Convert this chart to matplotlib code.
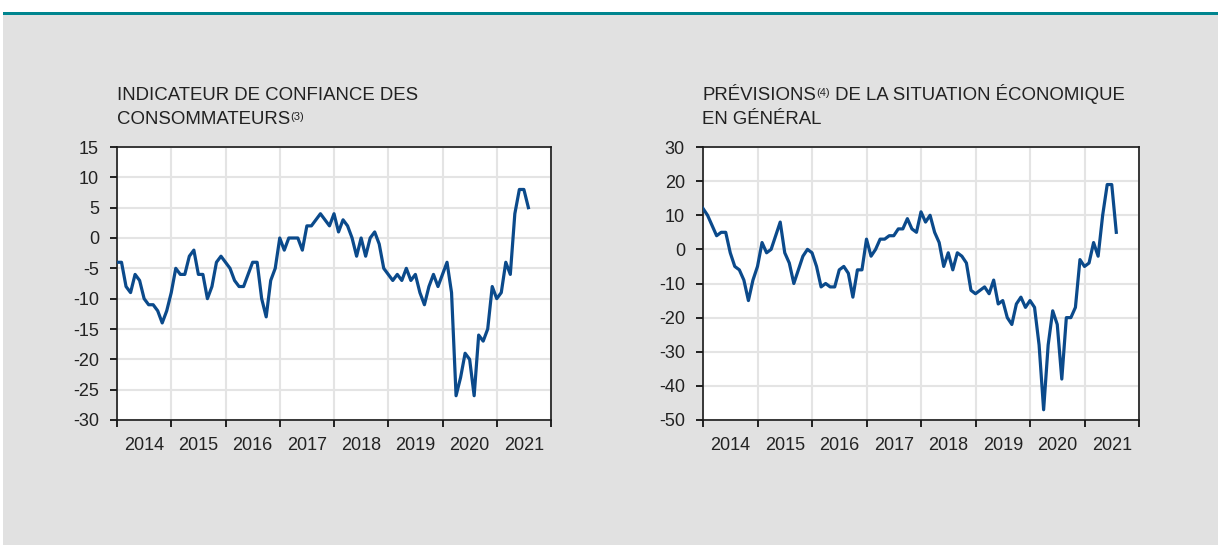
import numpy as np
import matplotlib
matplotlib.use("Agg")
from matplotlib import pyplot as plt
from matplotlib.patches import Rectangle

plt.rcParams['font.family'] = ['Liberation Sans', 'DejaVu Sans']
plt.rcParams['axes.unicode_minus'] = False

# monthly values, Jan 2014 -> Aug 2021
confiance = [-4, -4, -8, -9, -6, -7, -10, -11, -11, -12, -14, -12,   # 2014
             -9, -5, -6, -6, -3, -2, -6, -6, -10, -8, -4, -3,       # 2015
             -4, -5, -7, -8, -8, -6, -4, -4, -10, -13, -7, -5,      # 2016
             0, -2, 0, 0, 0, -2, 2, 2, 3, 4, 3, 2,                   # 2017
             4, 1, 3, 2, 0, -3, 0, -3, 0, 1, -1, -5,                 # 2018
             -6, -7, -6, -7, -5, -7, -6, -9, -11, -8, -6, -8,        # 2019
             -6, -4, -9, -26, -23, -19, -20, -26, -16, -17, -15, -8, # 2020
             -10, -9, -4, -6, 4, 8, 8, 5]                            # 2021

previsions = [12, 10, 7, 4, 5, 5, -1, -5, -6, -9, -15, -9,           # 2014
              -5, 2, -1, 0, 4, 8, -1, -4, -10, -6, -2, 0,           # 2015
              -1, -5, -11, -10, -11, -11, -6, -5, -7, -14, -6, -6,  # 2016
              3, -2, 0, 3, 3, 4, 4, 6, 6, 9, 6, 5,                   # 2017
              11, 8, 10, 5, 2, -5, -1, -6, -1, -2, -4, -12,          # 2018
              -13, -12, -11, -13, -9, -16, -15, -20, -22, -16, -14, -17,  # 2019
              -15, -17, -28, -47, -28, -18, -22, -38, -20, -20, -17, -3,  # 2020
              -5, -4, 2, -2, 10, 19, 19, 5]                          # 2021

years = [2014, 2015, 2016, 2017, 2018, 2019, 2020, 2021]

W, H = 1218, 545
fig = plt.figure(figsize=(W / 100, H / 100), dpi=100)
fig.patch.set_facecolor('white')

# grey panel + teal rule on top
fig.patches.append(Rectangle((3 / W, 0), 1, 1 - 15 / H, transform=fig.transFigure,
                             facecolor='#e1e1e1', edgecolor='none', zorder=-10))
fig.patches.append(Rectangle((3 / W, 1 - 15 / H), 1, 3 / H, transform=fig.transFigure,
                             facecolor='#00858f', edgecolor='none', zorder=-9))

TXT = '#222222'
LINE = '#0b4a8b'


def px_axes(x0, x1, y0, y1):
    return fig.add_axes([x0 / W, 1 - y1 / H, (x1 - x0) / W, (y1 - y0) / H])


def setup(ax, vals, ylo, yhi, step):
    x = [2014 + i / 12 for i in range(len(vals))]
    ax.plot(x, vals, color=LINE, lw=2.3, solid_joinstyle='round', zorder=3)
    ax.set_xlim(2014, 2022)
    ax.set_ylim(ylo, yhi)
    ax.set_facecolor('white')
    ax.set_yticks(np.arange(ylo, yhi + 1, step))
    ax.set_xticks(range(2014, 2023))
    ax.set_xticklabels([])
    ax.set_xticks([y + 0.5 for y in years], minor=True)
    ax.set_xticklabels([str(y) for y in years], minor=True)
    ax.tick_params(axis='x', which='minor', length=0, pad=12, labelsize=13, labelcolor=TXT)
    ax.tick_params(axis='x', which='major', length=5, width=1.2, direction='out')
    ax.tick_params(axis='y', length=5, width=1.2, pad=8, labelsize=13, labelcolor=TXT)
    ax.grid(True, which='major', color='#e4e4e4', lw=1.5, zorder=0)
    ax.set_axisbelow(True)
    for s in ax.spines.values():
        s.set_color('#1a1a1a')
        s.set_linewidth(1.2)


ax1 = px_axes(117, 551, 147, 420)
setup(ax1, confiance, -30, 15, 5)
ax2 = px_axes(703, 1139, 147, 420)
setup(ax2, previsions, -50, 30, 10)

renderer = fig.canvas.get_renderer()


def title_line(x, y, pieces):
    # pieces: (text, fontsize, raise in px)
    for s, size, dy in pieces:
        t = fig.text(x / W, 1 - (y - dy) / H, s, fontsize=size, color=TXT,
                     ha='left', va='baseline')
        x = t.get_window_extent(renderer).x1


title_line(117, 99.5, [("INDICATEUR DE CONFIANCE DES", 13.4, 0)])
title_line(117, 123.5, [("CONSOMMATEURS", 13.4, 0), ("(3)", 8, 4)])
title_line(702, 99.5, [("PRÉVISIONS", 13.4, 0), ("(4)", 8, 4),
                       (" DE LA SITUATION ÉCONOMIQUE", 13.4, 0)])
title_line(702, 123.5, [("EN GÉNÉRAL", 13.4, 0)])

fig.savefig('out.png', dpi=100)
